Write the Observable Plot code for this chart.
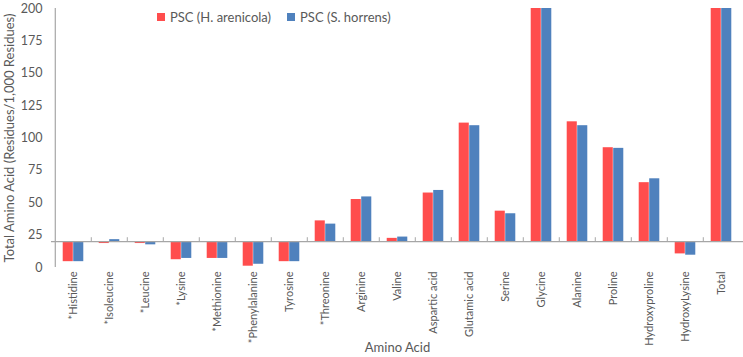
<!DOCTYPE html>
<html>
<head>
<meta charset="utf-8">
<script src="https://cdn.jsdelivr.net/npm/d3@7"></script>
<script src="https://cdn.jsdelivr.net/npm/@observablehq/plot@0.6"></script>
<style>
  html, body { margin: 0; padding: 0; background: #fff; }
  #wrap { position: relative; width: 743px; height: 357px; font-family: Lato, "Open Sans", sans-serif; color: #595959; }
  #legend { position: absolute; top: 9px; left: 157px; font-size: 13px; display: flex; gap: 16px; white-space: nowrap; }
  .item { display: flex; align-items: center; gap: 5px; }
  .sw { width: 8px; height: 8px; display: inline-block; }
  svg [aria-label="y-axis tick label"] { font-size: 12.5px; }
  svg [aria-label="y-axis label"] { font-size: 13px; }
  svg [aria-label="x-axis label"] { font-size: 13px; }
</style>
</head>
<body>
<div id="wrap">
  <div id="chart"></div>
  <div id="legend"></div>
</div>
<script>
const categories = ["*Histidine", "*Isoleucine", "*Leucine", "*Lysine", "*Methionine", "*Phenylalanine", "Tyrosine", "*Threonine", "Arginine", "Valine", "Aspartic acid", "Glutamic acid", "Serine", "Glycine", "Alanine", "Proline", "Hydroxyproline", "HydroxyLysine", "Total"];
const seriesNames = ["PSC (H. arenicola)", "PSC (S. horrens)"];
const arenicola = [4.5, 18.5, 18.5, 6, 7, 1, 4.5, 36, 52.5, 22.5, 57.5, 111.5, 43.5, 330, 112.5, 92.5, 65.5, 10.5, 1000];
const horrens   = [4.5, 21.5, 17.5, 7, 7, 2.5, 4.5, 33.5, 54.5, 23.5, 59.5, 109.5, 41.5, 330, 109.5, 92, 68.5, 9.5, 1000];
const yTicks = [0, 25, 50, 75, 100, 125, 150, 175, 200];
const baseline = 20;
const colors = ["#ff4d4d", "#4f81bd"];

const W = 743, H = 357, ML = 51, MR = 0;
const bw = (W - ML - MR) / categories.length;
const half = 10.5;
const inner = bw / 2 - half;

const rowsA = categories.map((c, i) => ({cat: c, v: arenicola[i]}));
const rowsB = categories.map((c, i) => ({cat: c, v: horrens[i]}));

const chart = Plot.plot({
  width: W,
  height: H,
  marginLeft: ML,
  marginRight: MR,
  marginTop: 8,
  marginBottom: 90,
  style: {fontFamily: "Lato, 'Open Sans', sans-serif", fontSize: "11px", color: "#595959", background: "#fff"},
  x: {domain: categories, padding: 0, tickRotate: -90, tickSize: 0, tickPadding: 4, label: "Amino Acid", labelAnchor: "center", labelOffset: 84, labelArrow: "none"},
  y: {domain: [0, 200], ticks: yTicks, tickSize: 0, tickPadding: 9, label: "Total Amino Acid (Residues/1,000 Residues)", labelAnchor: "center", labelOffset: 47, labelArrow: "none"},
  marks: [
    Plot.barY(rowsA, {x: "cat", y1: baseline, y2: "v", fill: colors[0], insetLeft: inner, insetRight: bw / 2, clip: true}),
    Plot.barY(rowsB, {x: "cat", y1: baseline, y2: "v", fill: colors[1], insetLeft: bw / 2, insetRight: inner, clip: true}),
    Plot.ruleY([baseline], {stroke: "#a6a6a6", strokeWidth: 1.2}),
    Plot.ruleX(categories.slice(1), {x: d => d, dx: -bw / 2, y1: baseline, y2: baseline + 3, stroke: "#a6a6a6"}),
    Plot.ruleX([categories[0]], {x: d => d, dx: -bw / 2, y1: 0, y2: 200, stroke: "#a6a6a6", strokeWidth: 1.2})
  ]
});
document.getElementById("chart").appendChild(chart);

const legend = document.getElementById("legend");
seriesNames.forEach((name, i) => {
  const it = document.createElement("span");
  it.className = "item";
  const sw = document.createElement("span");
  sw.className = "sw";
  sw.style.background = colors[i];
  const t = document.createElement("span");
  t.textContent = name;
  it.appendChild(sw); it.appendChild(t);
  legend.appendChild(it);
});
</script>
</body>
</html>
